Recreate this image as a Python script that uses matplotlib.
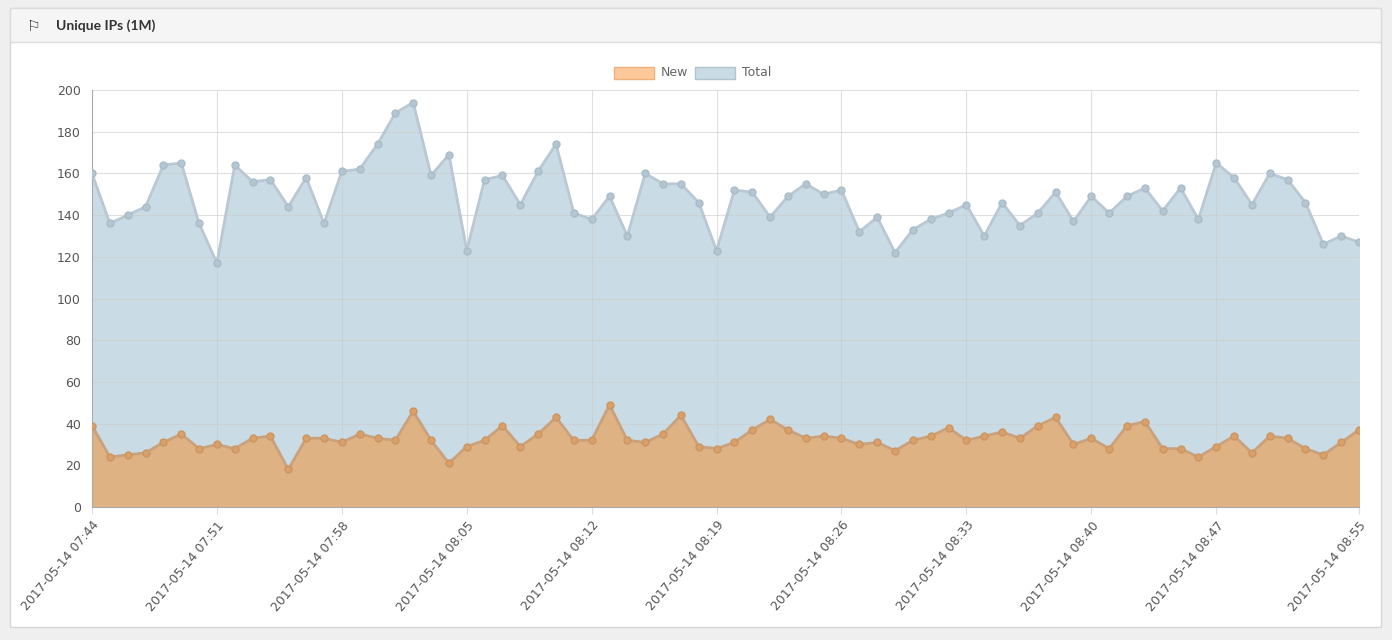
import matplotlib
matplotlib.use("Agg")
import matplotlib.pyplot as plt
from matplotlib.patches import Rectangle
import numpy as np

total = [160,136,140,144,164,165,136,117,164,156,157,144,158,136,161,162,174,189,194,159,
         169,123,157,159,145,161,174,141,138,149,130,160,155,155,146,123,152,151,139,149,
         155,150,152,132,139,122,133,138,141,145,130,146,135,141,151,137,149,141,149,153,
         142,153,138,165,158,145,160,157,146,126,130,127]
new = [39,24,25,26,31,35,28,30,28,33,34,18,33,33,31,35,33,32,46,32,
       21,29,32,39,29,35,43,32,32,49,32,31,35,44,29,28,31,37,42,37,
       33,34,33,30,31,27,32,34,38,32,34,36,33,39,43,30,33,28,39,41,
       28,28,24,29,34,26,34,33,28,25,31,37]
start_h, start_m = 7, 44
labels = []
for i in range(len(total)):
    m = start_h*60 + start_m + i
    labels.append(f"2017-05-14 {m//60:02d}:{m%60:02d}")

W, H = 1392, 640
fig = plt.figure(figsize=(W/100, H/100), dpi=100)
fig.patch.set_facecolor("#efefef")
# panel
fig.add_artist(Rectangle((10/W, 1-627/H), 1371/W, 619/H, transform=fig.transFigure,
                         facecolor="white", edgecolor="#d6d6d6", lw=1, zorder=-2))
fig.add_artist(Rectangle((10/W, 1-42/H), 1371/W, 34/H, transform=fig.transFigure,
                         facecolor="#f5f5f5", edgecolor="#dcdcdc", lw=1, zorder=-1))
fig.text(26/W, 1-26/H, "⚐", fontsize=11, va="center", color="#333")
fig.text(56/W, 1-26/H, "Unique IPs (1M)", fontsize=10, fontweight="bold", va="center",
         color="#333", family="Lato")

ax = fig.add_axes([92/W, 1-507/H, (1359-92)/W, (507-90)/H])
ax.set_zorder(5)
ax.patch.set_alpha(0)
x = np.arange(len(total))
ax.fill_between(x, total, color="#c9dce6", zorder=1)
ax.plot(x, total, color="#b9c8d2", lw=2, marker="o", ms=5, mfc="#b3c6d2", mec="#a9bcc8", zorder=3)
ax.fill_between(x, new, color="#dfb283", zorder=2)
ax.plot(x, new, color="#c9a27d", lw=2, marker="o", ms=5, mfc="#d9a06a", mec="#cc9560", zorder=4)

ax.set_xlim(0, len(total)-1)
ax.set_ylim(0, 200)
ax.set_yticks(range(0, 201, 20))
ticks = list(range(0, len(total), 7))
ticks[-1] = len(total)-1
ax.set_xticks(ticks)
ax.set_xticklabels([labels[i] for i in ticks], rotation=50, ha="right", rotation_mode="anchor",
                   fontsize=9, color="#555")
ax.tick_params(axis="y", labelsize=9, colors="#555", length=0, pad=8)
ax.tick_params(axis="x", length=5, color="#ddd")
ax.grid(True, color="#cccccc", lw=0.8)
for g in ax.get_xgridlines() + ax.get_ygridlines():
    g.set_zorder(2.5)
    g.set_alpha(0.6)
for s in ["top", "right"]:
    ax.spines[s].set_visible(False)
ax.spines["left"].set_color("#aaa")
ax.spines["bottom"].set_color("#aaa")

# legend
fig.add_artist(Rectangle((614/W, 1-79/H), 40/W, 12/H, transform=fig.transFigure,
                         facecolor="#fdc99a", edgecolor="#f0b07a", lw=1))
fig.text(661/W, 1-73/H, "New", fontsize=9, va="center", color="#666")
fig.add_artist(Rectangle((695/W, 1-79/H), 40/W, 12/H, transform=fig.transFigure,
                         facecolor="#c9dce6", edgecolor="#b0c4d0", lw=1))
fig.text(742/W, 1-73/H, "Total", fontsize=9, va="center", color="#666")

fig.savefig("out.png", dpi=100)
